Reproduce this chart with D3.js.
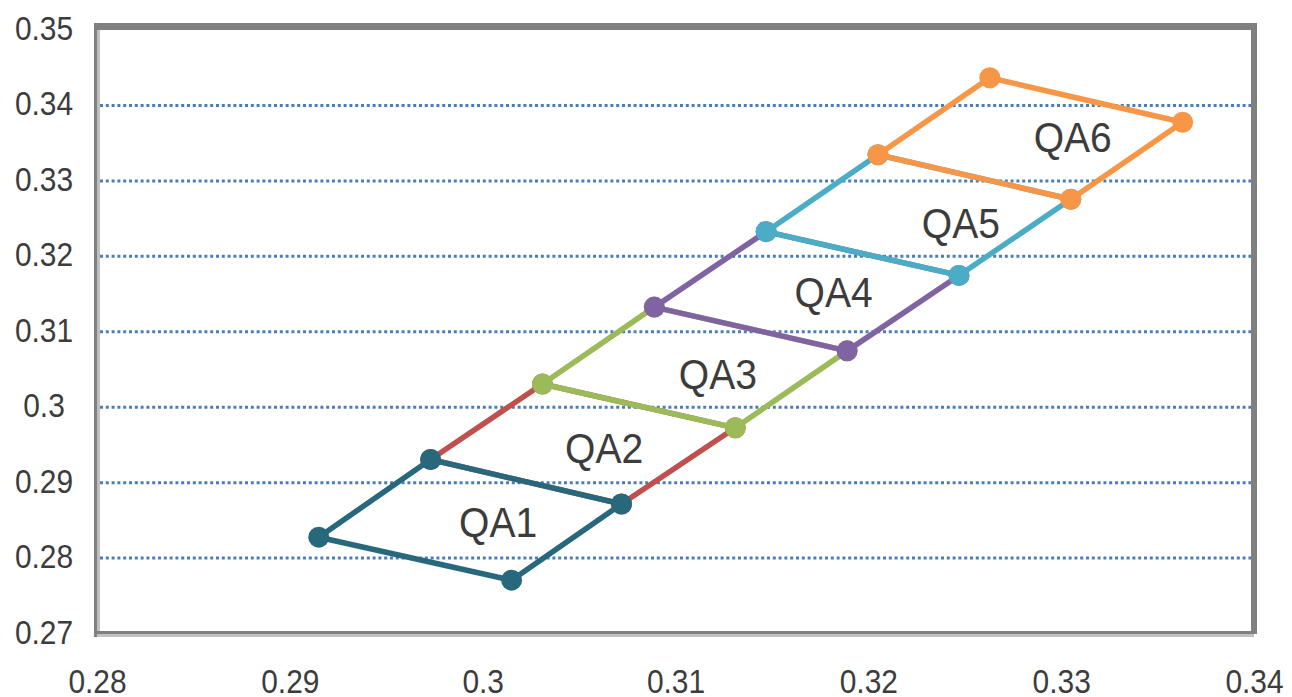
<!DOCTYPE html>
<html>
<head>
<meta charset="utf-8">
<script src="https://cdn.jsdelivr.net/npm/d3@7"></script>
<style>
  html, body { margin: 0; padding: 0; background: #ffffff; }
  svg { display: block; }
</style>
</head>
<body>
<div id="chart"></div>
<script>
// ---------------- data ----------------
const xTickValues = [0.28, 0.29, 0.30, 0.31, 0.32, 0.33, 0.34];
const xTickLabels = ["0.28", "0.29", "0.3", "0.31", "0.32", "0.33", "0.34"];
const yTickValues = [0.27, 0.28, 0.29, 0.30, 0.31, 0.32, 0.33, 0.34, 0.35];
const yTickLabels = ["0.27", "0.28", "0.29", "0.3", "0.31", "0.32", "0.33", "0.34", "0.35"];
const gridValues = [0.28, 0.29, 0.30, 0.31, 0.32, 0.33, 0.34];

const seriesNames = ["QA1", "QA2", "QA3", "QA4", "QA5", "QA6"];
const qa1X = [0.2915, 0.3015, 0.3072, 0.2973, 0.2915];
const qa1Y = [0.2827, 0.2770, 0.2871, 0.2930, 0.2827];
const qa2X = [0.2973, 0.3072, 0.3131, 0.3031, 0.2973];
const qa2Y = [0.2930, 0.2871, 0.2972, 0.3030, 0.2930];
const qa3X = [0.3031, 0.3131, 0.3189, 0.3089, 0.3031];
const qa3Y = [0.3030, 0.2972, 0.3074, 0.3132, 0.3030];
const qa4X = [0.3089, 0.3189, 0.3247, 0.3147, 0.3089];
const qa4Y = [0.3132, 0.3074, 0.3174, 0.3232, 0.3132];
const qa5X = [0.3147, 0.3247, 0.3305, 0.3205, 0.3147];
const qa5Y = [0.3232, 0.3174, 0.3275, 0.3334, 0.3232];
const qa6X = [0.3205, 0.3305, 0.3363, 0.3263, 0.3205];
const qa6Y = [0.3334, 0.3275, 0.3377, 0.3436, 0.3334];
const seriesColors = ["#27687c", "#c0504d", "#9bbb59", "#8064a2", "#4bacc6", "#f79646"];

// label anchors (centre x, baseline y) in data units
const labelX = [0.3008, 0.3063, 0.3122, 0.3182, 0.3248, 0.3306];
const labelY = [0.2827, 0.2925, 0.3023, 0.3132, 0.3223, 0.3338];

// draw order: later series on top, first series drawn last
const drawOrder = [1, 2, 3, 4, 5, 0];

// ---------------- layout ----------------
const W = 1292, H = 697;
const x = d3.scaleLinear().domain([0.28, 0.34]).range([97, 1254]);
const y = d3.scaleLinear().domain([0.27, 0.35]).range([633, 29.5]);

const svg = d3.select("#chart").append("svg")
  .attr("width", W).attr("height", H);

const textColor = "#3c3c3c";
const fontFam = "'Liberation Sans', Arial, sans-serif";

const [x0, x1] = x.range();
const [y1, y0] = y.range();

// plot area background
svg.append("rect")
  .attr("x", x0).attr("y", y0).attr("width", x1 - x0).attr("height", y1 - y0)
  .attr("fill", "#ffffff");

// gridlines (dotted)
const grid = svg.append("g")
  .attr("transform", `translate(${x0 + 3},0)`)
  .call(d3.axisRight(y).tickValues(gridValues).tickSize(x1 - x0 - 6).tickFormat(""));
grid.select(".domain").remove();
grid.selectAll(".tick line")
  .attr("stroke", "#4a7ebb")
  .attr("stroke-width", 3)
  .attr("stroke-dasharray", "3 2.8");

// frame
const dark = "#808080", light = "#c0c0c0";
const frame = svg.append("g");
frame.append("rect").attr("x", x0 - 3).attr("y", y0 - 6.5).attr("width", x1 - x0 + 6).attr("height", 7).attr("fill", dark);
frame.append("rect").attr("x", x1 - 3).attr("y", y0 - 6.5).attr("width", 6).attr("height", y1 - y0 + 7.5).attr("fill", dark);
frame.append("rect").attr("x", x0 - 3).attr("y", y0 - 6.5).attr("width", 3).attr("height", y1 - y0 + 10.5).attr("fill", dark);
frame.append("rect").attr("x", x0).attr("y", y0 + 0.5).attr("width", 3).attr("height", y1 - y0 - 2.5).attr("fill", light);
frame.append("rect").attr("x", x0).attr("y", y1 - 2).attr("width", x1 - x0 + 3).attr("height", 3).attr("fill", dark);
frame.append("rect").attr("x", x0).attr("y", y1 + 1).attr("width", x1 - x0).attr("height", 3).attr("fill", light);

// y axis labels
const yAxis = svg.append("g")
  .attr("transform", "translate(44,0)")
  .call(d3.axisLeft(y).tickValues(yTickValues).tickSize(0)
    .tickFormat((d, i) => yTickLabels[i]));
yAxis.select(".domain").remove();
yAxis.selectAll(".tick text")
  .attr("x", null).attr("dy", null)
  .attr("transform", "translate(0,10) scale(0.88,1)")
  .attr("text-anchor", "middle")
  .attr("fill", textColor)
  .style("font-family", fontFam)
  .style("font-size", "34px");

// x axis labels
const xAxis = svg.append("g")
  .attr("transform", "translate(0,693)")
  .call(d3.axisBottom(x).tickValues(xTickValues).tickSize(0)
    .tickFormat((d, i) => xTickLabels[i]));
xAxis.select(".domain").remove();
xAxis.selectAll(".tick text")
  .attr("y", null).attr("dy", null)
  .attr("transform", "scale(0.88,1)")
  .attr("text-anchor", "middle")
  .attr("fill", textColor)
  .style("font-family", fontFam)
  .style("font-size", "34px");

// series
const allX = [qa1X, qa2X, qa3X, qa4X, qa5X, qa6X];
const allY = [qa1Y, qa2Y, qa3Y, qa4Y, qa5Y, qa6Y];
const line = d3.line().x(d => x(d[0])).y(d => y(d[1]));

drawOrder.forEach(i => {
  const pts = allX[i].map((v, k) => [v, allY[i][k]]);
  const g = svg.append("g").attr("class", "series " + seriesNames[i]);
  g.append("path")
    .attr("d", line(pts))
    .attr("fill", "none")
    .attr("stroke", seriesColors[i])
    .attr("stroke-width", 5.5)
    .attr("stroke-linejoin", "round");
  g.selectAll("circle").data(pts.slice(0, 4)).enter().append("circle")
    .attr("cx", d => x(d[0])).attr("cy", d => y(d[1]))
    .attr("r", 10.5)
    .attr("fill", seriesColors[i]);
});

// series labels
seriesNames.forEach((name, i) => {
  svg.append("text")
    .attr("transform", `translate(${x(labelX[i])},${y(labelY[i])}) scale(0.93,1)`)
    .attr("text-anchor", "middle")
    .attr("fill", textColor)
    .style("font-family", fontFam)
    .style("font-size", "42px")
    .text(name);
});
</script>
</body>
</html>
